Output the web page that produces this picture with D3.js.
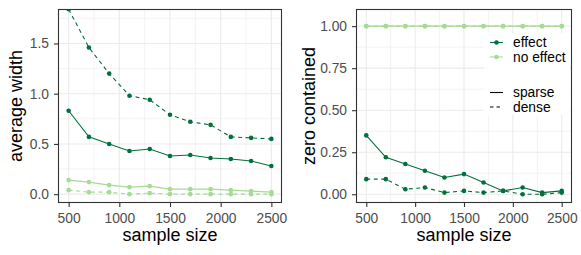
<!DOCTYPE html>
<html><head><meta charset="utf-8">
<script src="https://cdn.jsdelivr.net/npm/d3@7"></script>
<style>body{margin:0;background:#fff}svg{display:block;font-family:"Liberation Sans",Arial,sans-serif}</style>
</head><body><svg id="c" width="581" height="255"></svg>
<script>
const sampleSizes = [500,700,900,1100,1300,1500,1700,1900,2100,2300,2500];
const widthEffectSparse = [0.83,0.57,0.50,0.43,0.45,0.38,0.39,0.36,0.35,0.33,0.28];
const widthEffectDense = [1.84,1.46,1.20,0.98,0.94,0.79,0.72,0.69,0.57,0.56,0.55];
const widthNoEffectSparse = [0.14,0.12,0.09,0.07,0.08,0.05,0.05,0.05,0.04,0.03,0.02];
const widthNoEffectDense = [0.04,0.02,0.02,0.00,0.01,0.00,0.00,0.00,0.00,0.00,0.00];
const zeroEffectSparse = [0.35,0.22,0.18,0.14,0.10,0.12,0.07,0.02,0.04,0.01,0.02];
const zeroEffectDense = [0.09,0.09,0.03,0.04,0.01,0.02,0.01,0.02,0.00,0.00,0.01];
const zeroNoEffectSparse = [1,1,1,1,1,1,1,1,1,1,1];
const zeroNoEffectDense = [1,1,1,1,1,1,1,1,1,1,1];
const xTicks = [500,1000,1500,2000,2500];
const leftYTicks = [0.0,0.5,1.0,1.5];
const rightYTicks = [0.00,0.25,0.50,0.75,1.00];
const effectLabels = ["effect","no effect"];
const densityLabels = ["sparse","dense"];

const DARK = "#00703c", LIGHT = "#a6db94";
const svg = d3.select("#c");

function panel(cfg){
  const {x0,x1,y0,y1,ydom,yticks,yminor,fmt,title,series,id} = cfg;
  const x = d3.scaleLinear().domain([400,2600]).range([x0,x1]);
  const y = d3.scaleLinear().domain(ydom).range([y1,y0]);
  const g = svg.append("g");
  g.append("defs").append("clipPath").attr("id",id).append("rect")
    .attr("x",x0).attr("y",y0).attr("width",x1-x0).attr("height",y1-y0);
  const xminor = [750,1250,1750,2250];
  g.selectAll(".vmin").data(xminor).join("line").attr("x1",d=>x(d)).attr("x2",d=>x(d))
    .attr("y1",y0).attr("y2",y1).attr("stroke","#ebebeb").attr("stroke-width",0.6);
  g.selectAll(".hmin").data(yminor).join("line").attr("class","hmin").attr("y1",d=>y(d)).attr("y2",d=>y(d))
    .attr("x1",x0).attr("x2",x1).attr("stroke","#ebebeb").attr("stroke-width",0.6);
  g.selectAll(".vmaj").data(xTicks).join("line").attr("class","vmaj").attr("x1",d=>x(d)).attr("x2",d=>x(d))
    .attr("y1",y0).attr("y2",y1).attr("stroke","#ebebeb").attr("stroke-width",1.1);
  g.selectAll(".hmaj").data(yticks).join("line").attr("class","hmaj").attr("y1",d=>y(d)).attr("y2",d=>y(d))
    .attr("x1",x0).attr("x2",x1).attr("stroke","#ebebeb").attr("stroke-width",1.1);
  const data = g.append("g").attr("clip-path",`url(#${id})`);
  series.forEach(s=>{
    const pts = sampleSizes.map((n,i)=>[n,s.v[i]]);
    data.append("path").datum(pts).attr("fill","none").attr("stroke",s.c).attr("stroke-width",1.1)
      .attr("stroke-dasharray",s.dash?"4,3.5":null)
      .attr("d",d3.line().x(d=>x(d[0])).y(d=>y(d[1])));
    data.selectAll(null).data(pts).join("circle").attr("cx",d=>x(d[0])).attr("cy",d=>y(d[1]))
      .attr("r",2.3).attr("fill",s.c);
  });
  const ax = g.append("g").attr("transform",`translate(0,${y1})`)
    .call(d3.axisBottom(x).tickValues(xTicks).tickSize(4.5).tickPadding(3).tickFormat(d3.format("d")));
  const ay = g.append("g").attr("transform",`translate(${x0},0)`)
    .call(d3.axisLeft(y).tickValues(yticks).tickSize(4.5).tickPadding(5).tickFormat(fmt));
  [ax,ay].forEach(a=>{
    a.select(".domain").remove();
    a.selectAll(".tick line").attr("stroke","#333").attr("stroke-width",1.1);
    a.selectAll(".tick text").attr("fill","#4d4d4d").style("font-size","13.8px").attr("font-family",null);
  });
  ax.selectAll(".tick text").attr("y",20.5).attr("dy",0);
  g.append("rect").attr("x",x0).attr("y",y0).attr("width",x1-x0).attr("height",y1-y0)
    .attr("fill","none").attr("stroke","#333").attr("stroke-width",1.1);
  g.append("text").attr("x",(x0+x1)/2).attr("y",241).attr("text-anchor","middle")
    .style("font-size","18px").attr("fill","#000").text("sample size");
  g.append("text").attr("transform",`translate(${cfg.ytx},${(y0+y1)/2}) rotate(-90)`)
    .attr("text-anchor","middle").style("font-size","18px").attr("fill","#000").text(title);
  return {x,y,g};
}

panel({id:"cl",x0:58.5,x1:281.5,y0:9.5,y1:202.5,ydom:[-0.083,1.838],yticks:leftYTicks,
  yminor:[0.25,0.75,1.25,1.75],fmt:d3.format(".1f"),title:"average width",ytx:22,
  series:[{v:widthEffectSparse,c:DARK},{v:widthEffectDense,c:DARK,dash:true},
          {v:widthNoEffectSparse,c:LIGHT},{v:widthNoEffectDense,c:LIGHT,dash:true}]});
panel({id:"cr",x0:356.5,x1:571.5,y0:9.5,y1:202.5,ydom:[-0.049,1.099],yticks:rightYTicks,
  yminor:[0.125,0.375,0.625,0.875],fmt:d3.format(".2f"),title:"zero contained",ytx:315,
  series:[{v:zeroEffectSparse,c:DARK},{v:zeroEffectDense,c:DARK,dash:true},
          {v:zeroNoEffectSparse,c:LIGHT},{v:zeroNoEffectDense,c:LIGHT,dash:true}]});

const lg = svg.append("g");
lg.append("rect").attr("x",484).attr("y",33).attr("width",86).attr("height",82).attr("fill","#fff");
const colors = [DARK,LIGHT];
effectLabels.forEach((t,i)=>{
  const yy = 42.5+i*14.5;
  lg.append("line").attr("x1",490).attr("x2",503).attr("y1",yy).attr("y2",yy).attr("stroke",colors[i]).attr("stroke-width",1.1);
  lg.append("circle").attr("cx",496.5).attr("cy",yy).attr("r",2.3).attr("fill",colors[i]);
  lg.append("text").attr("x",513).attr("y",yy+4.8).style("font-size","13.8px").text(t);
});
densityLabels.forEach((t,i)=>{
  const yy = 92.5+i*14.5;
  lg.append("line").attr("x1",490).attr("x2",503).attr("y1",yy).attr("y2",yy).attr("stroke","#000")
    .attr("stroke-width",1.1).attr("stroke-dasharray",i?"3.5,3":null);
  lg.append("text").attr("x",513).attr("y",yy+4.8).style("font-size","13.8px").text(t);
});
</script></body></html>
